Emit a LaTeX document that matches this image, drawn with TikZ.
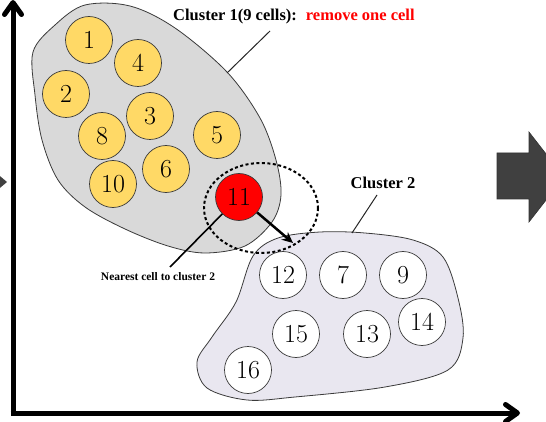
\documentclass[tikz,border=0pt]{standalone}
\usepackage{fontspec}
\newfontfamily\labelfont{Liberation Serif}
\usetikzlibrary{arrows.meta}
\definecolor{cellyellow}{HTML}{FFD966}
\definecolor{blobgray}{HTML}{D9D9D9}
\definecolor{bloblilac}{HTML}{E9E7F0}
\definecolor{edgegray}{HTML}{3A3A3A}
\definecolor{arrowgray}{HTML}{404040}

\begin{document}
\begin{tikzpicture}[x=1pt,y=-1pt,
  cell/.style={circle, draw=edgegray, line width=0.7pt, minimum size=47pt,
               inner sep=0pt, font=\fontsize{26}{26}\selectfont},
  member/.style={cell, fill=cellyellow},
  moved/.style={cell, fill=red},
  target/.style={cell, fill=white},
  blob/.style={draw=edgegray, line width=0.8pt},
  caption/.style={font=\labelfont\bfseries\fontsize{16.5}{16.5}\selectfont, inner sep=0pt},
  smallcaption/.style={font=\labelfont\bfseries\fontsize{11.5}{12}\selectfont, inner sep=0pt},
  leader/.style={draw=black!85, line width=1pt},
  axis/.style={line width=5pt, -{Straight Barb[length=12pt, width=17pt, round]}}
]
\useasboundingbox (0,0) rectangle (546,422);
\clip (0,0) rectangle (546,422);

% arrows between panels
\fill[arrowgray] (-12,166) -- (7,182) -- (-12,198) -- cycle;
\draw[fill=arrowgray, draw=black!80, line width=0.6pt]
  (497,153) -- (529,153) -- (529,132) -- (564,177) -- (529,222) -- (529,199) -- (497,199) -- cycle;

% axes
\draw[axis] (13,415.5) -- (13,0);
\draw[axis] (10.5,413) -- (520,413);

% cluster 1 region
\draw[blob, fill=blobgray] plot[smooth cycle, tension=0.55] coordinates {
  (33,52) (55,25) (85,5) (130,6) (175,28) (227,72) (260,118) (276,160)
  (281,195) (272,222) (245,246) (205,253) (168,246) (125,229) (85,207)
  (58,180) (42,140) (35,95)};

% cluster 2 region
\draw[blob, fill=bloblilac] plot[smooth cycle, tension=0.55] coordinates {
  (253,256) (278,238) (320,232) (365,233) (413,240) (443,257) (458,298)
  (463,338) (448,370) (385,387) (295,397) (247,400) (207,388) (197,362)
  (212,337) (236,302)};

% cells of cluster 1
\node[member] (n1)  at (89,40)   {1};
\node[member] (n4)  at (138,63)  {4};
\node[member] (n2)  at (66,94)   {2};
\node[member] (n3)  at (150,116) {3};
\node[member] (n8)  at (102,136) {8};
\node[member] (n5)  at (217,135) {5};
\node[member] (n6)  at (166,169) {6};
\node[member] (n10) at (113,184) {10};
\node[moved]  (n11) at (239,197) {11};

% cells of cluster 2
\node[target] (n12) at (283,275) {12};
\node[target] (n7)  at (343,275) {7};
\node[target] (n9)  at (403,275) {9};
\node[target] (n15) at (296,334) {15};
\node[target] (n13) at (367,334) {13};
\node[target] (n14) at (422,322) {14};
\node[target] (n16) at (248,370) {16};

% neighbourhood of the moved cell
\draw[line width=2pt, dash pattern=on 3pt off 2.5pt] (261,208) ellipse [x radius=57, y radius=45];

% labels
\node[caption, anchor=west] (c1) at (173,17)
  {Cluster 1(9 cells):\hspace{9pt}\textcolor{red}{remove one cell}};
\coordinate (c1foot) at (270,31);
\coordinate (c1edge) at (227,73);
\draw[leader] (c1foot) -- (c1edge);

\node[caption] (c2) at (383,183) {Cluster 2};
\coordinate (c2foot) at (377,195);
\coordinate (c2edge) at (352,233);
\draw[leader] (c2foot) -- (c2edge);

\node[smallcaption] (near) at (158,277) {Nearest cell to cluster 2};
\coordinate (nearfoot) at (170,267);
\draw[line width=1.6pt] (n11) -- (nearfoot);

% move towards cluster 2
\coordinate (hit) at (293,243);
\draw[line width=2.5pt, -{Stealth[length=11pt, width=10pt]}] (n11) -- (hit);
\end{tikzpicture}
\end{document}
